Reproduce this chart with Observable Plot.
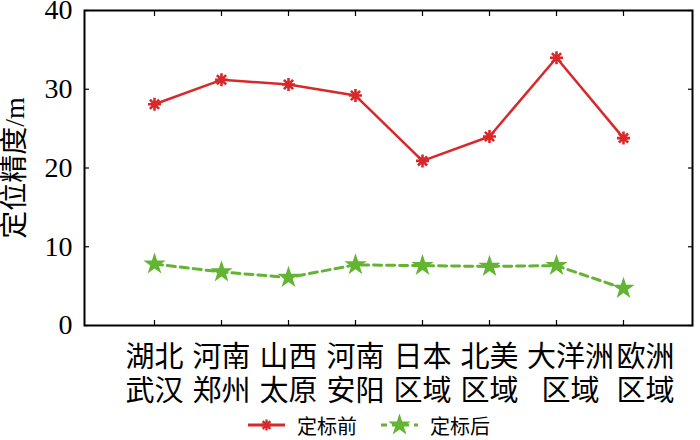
<!DOCTYPE html>
<html>
<head>
<meta charset="utf-8">
<script src="https://cdn.jsdelivr.net/npm/d3@7"></script>
<script src="https://cdn.jsdelivr.net/npm/@observablehq/plot@0.6"></script>
<style>
  html, body { margin: 0; padding: 0; background: #fff; }
  #chart { width: 700px; height: 440px; overflow: hidden; font-family: "Liberation Serif", "Noto Sans CJK SC", serif; }
  .legend { height: 30px; display: flex; align-items: center; justify-content: flex-start; padding-left: 248px; font-size: 20px; color: #000; font-family: "Liberation Serif", "Noto Sans CJK SC", serif; }
  .legend .item { display: flex; align-items: center; margin-right: 24px; }
  .legend svg { margin-right: 12px; display: block; }
</style>
</head>
<body>
<div id="chart"></div>
<script>
const categories = ["湖北\n武汉", "河南\n郑州", "山西\n太原", "河南\n安阳", "日本\n区域", "北美\n区域", "大洋洲\n区域", "欧洲\n区域"];
const before = [28.1, 31.2, 30.6, 29.2, 20.9, 24.0, 34.0, 23.8];
const after = [7.8, 6.8, 6.1, 7.7, 7.6, 7.5, 7.6, 4.7];
const yTicks = [0, 10, 20, 30, 40];
const seriesNames = ["定标前", "定标后"];
const yLabel = "定位精度/m";

const red = "#d8282a";
const green = "#63b433";
const font = "'Liberation Serif', 'Noto Sans CJK SC', serif";

const rows = [];
categories.forEach((c, i) => {
  rows.push({cat: c, v: before[i], s: seriesNames[0]});
  rows.push({cat: c, v: after[i], s: seriesNames[1]});
});
const rowsBefore = rows.filter(d => d.s === seriesNames[0]);
const rowsAfter = rows.filter(d => d.s === seriesNames[1]);

// 8-spoke asterisk marker (MATLAB-style "*")
const asterisk8 = {
  draw(context, size) {
    const r = Math.sqrt(size / Math.PI);
    for (let k = 0; k < 4; k++) {
      const a = k * Math.PI / 4;
      const dx = r * Math.cos(a), dy = r * Math.sin(a);
      context.moveTo(-dx, -dy);
      context.lineTo(dx, dy);
    }
  }
};

// horizontal nudges of the last two category labels, as in the reference layout
const labelNudge = (i) => (i === 6 ? 14 : i === 7 ? 22 : 0);
const labelMarks = categories.map((c, i) =>
  Plot.text([c], {x: d => d, text: d => d, frameAnchor: "bottom", lineAnchor: "top",
    dy: 17, dx: labelNudge(i), fontSize: 29, lineHeight: 1.17, fill: "#000", fontFamily: font})
);

const plot = Plot.plot({
  width: 700,
  height: 410,
  marginLeft: 84,
  marginRight: 8,
  marginTop: 10,
  marginBottom: 85,
  style: {fontFamily: font, background: "#fff", color: "#000"},
  x: {type: "point", domain: categories, padding: 1},
  y: {domain: [0, 40]},
  marks: [
    Plot.axisY(yTicks, {anchor: "left", tickSize: 0, tickPadding: 12, fontSize: 28, label: null, fill: "#000", fontFamily: font}),
    Plot.axisY(yTicks, {anchor: "left", tickSize: -5, fill: "none", label: null, strokeWidth: 1.2}),
    Plot.axisY(yTicks, {anchor: "right", tickSize: -5, fill: "none", label: null, strokeWidth: 1.2}),
    Plot.axisX({anchor: "bottom", tickSize: -5, fill: "none", label: null, strokeWidth: 1.2}),
    Plot.axisX({anchor: "top", tickSize: -5, fill: "none", label: null, strokeWidth: 1.2}),
    ...labelMarks,
    Plot.text([yLabel], {frameAnchor: "left", textAnchor: "middle", lineAnchor: "middle", text: d => d, rotate: -90, dx: -69, fontSize: 28, fill: "#000", fontFamily: font}),
    Plot.line(rowsBefore, {x: "cat", y: "v", stroke: red, strokeWidth: 2.5}),
    Plot.dot(rowsBefore, {x: "cat", y: "v", symbol: asterisk8, r: 6.5, stroke: red, strokeWidth: 2.6}),
    Plot.line(rowsAfter, {x: "cat", y: "v", stroke: green, strokeWidth: 3, strokeDasharray: "8,5"}),
    Plot.dot(rowsAfter, {x: "cat", y: "v", symbol: "star", r: 7, fill: green, stroke: "none"}),
    Plot.frame({stroke: "#000", strokeWidth: 2})
  ]
});

const chart = document.getElementById("chart");
chart.appendChild(plot);

const legend = document.createElement("div");
legend.className = "legend";
const items = [
  {name: seriesNames[0], color: red, dash: null, sym: "asterisk"},
  {name: seriesNames[1], color: green, dash: "6,5", sym: "star"}
];
items.forEach(it => {
  const item = document.createElement("div");
  item.className = "item";
  const ns = "http://www.w3.org/2000/svg";
  const svg = document.createElementNS(ns, "svg");
  svg.setAttribute("width", 37);
  svg.setAttribute("height", 22);
  const line = document.createElementNS(ns, "line");
  line.setAttribute("x1", 0); line.setAttribute("x2", 37);
  line.setAttribute("y1", 11); line.setAttribute("y2", 11);
  line.setAttribute("stroke", it.color);
  line.setAttribute("stroke-width", 2.8);
  if (it.dash) line.setAttribute("stroke-dasharray", it.dash);
  svg.appendChild(line);
  const path = document.createElementNS(ns, "path");
  const p = d3.path();
  if (it.sym === "asterisk") {
    asterisk8.draw(p, Math.PI * 5.5 * 5.5);
    path.setAttribute("stroke", it.color);
    path.setAttribute("stroke-width", 2.4);
    path.setAttribute("fill", "none");
  } else {
    d3.symbolStar.draw(p, Math.PI * 7 * 7);
    path.setAttribute("fill", it.color);
  }
  path.setAttribute("d", p.toString());
  path.setAttribute("transform", "translate(18.5,11)");
  svg.appendChild(path);
  item.appendChild(svg);
  const span = document.createElement("span");
  span.textContent = it.name;
  item.appendChild(span);
  legend.appendChild(item);
});
chart.appendChild(legend);
</script>
</body>
</html>
